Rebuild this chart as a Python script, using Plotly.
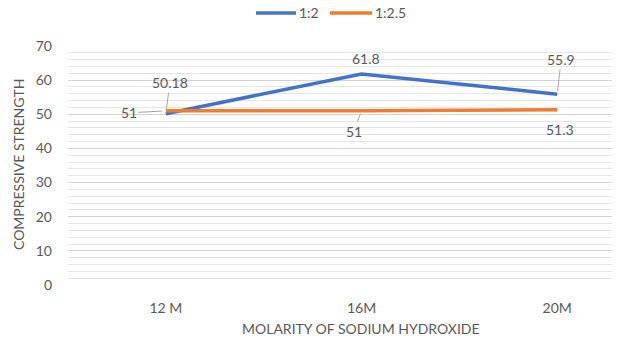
import plotly.graph_objects as go

categories = ["12 M", "16M", "20M"]
ratio_1_2 = [50.18, 61.8, 55.9]
ratio_1_2_5 = [51, 51, 51.3]
series_names = ["1:2", "1:2.5"]

BLUE = "#4472C4"
ORANGE = "#ED7D31"
TEXT = "#595959"
FONT = "Lato"
FS = 14

W, H = 619, 341
ML, MR, MT, MB = 68, 7, 46, 56
PW, PH = W - ML - MR, H - MT - MB


def px(x):
    return (x - ML) / PW


def py(y):
    return (H - MB - y) / PH


fig = go.Figure()
fig.add_trace(go.Scatter(x=categories, y=ratio_1_2, mode="lines", name=series_names[0],
                         line=dict(color=BLUE, width=3.5)))
fig.add_trace(go.Scatter(x=categories, y=ratio_1_2_5, mode="lines", name=series_names[1],
                         line=dict(color=ORANGE, width=3.5)))

# data labels (some with leader lines)
lab = dict(font=dict(family=FONT, size=FS, color=TEXT), xref="x", yref="y",
           arrowcolor="#a6a6a6", arrowwidth=1, arrowhead=0)
fig.add_annotation(x=categories[0], y=ratio_1_2[0], text=f"{ratio_1_2[0]:g}",
                   showarrow=True, ax=4, ay=-31, standoff=3, **lab)
fig.add_annotation(x=categories[1], y=ratio_1_2[1], text=f"{ratio_1_2[1]:g}",
                   showarrow=False, xshift=4, yshift=16, **lab)
fig.add_annotation(x=categories[2], y=ratio_1_2[2], text=f"{ratio_1_2[2]:g}",
                   showarrow=True, ax=4, ay=-35, standoff=3, **lab)
fig.add_annotation(x=categories[0], y=ratio_1_2_5[0], text=f"{ratio_1_2_5[0]:g}",
                   showarrow=True, ax=-37, ay=2, standoff=4, **lab)
fig.add_annotation(x=categories[1], y=ratio_1_2_5[1], text=f"{ratio_1_2_5[1]:g}",
                   showarrow=True, ax=-8, ay=21, standoff=3, **lab)
fig.add_annotation(x=categories[2], y=ratio_1_2_5[2], text=f"{ratio_1_2_5[2]:g}",
                   showarrow=False, xshift=3, yshift=-20, **lab)

# axis titles
fig.add_annotation(text="MOLARITY OF SODIUM HYDROXIDE", xref="paper", yref="paper",
                   x=px(361), y=py(328), xanchor="center", yanchor="middle",
                   showarrow=False, font=dict(family=FONT, size=FS, color=TEXT))
fig.add_annotation(text="COMPRESSIVE STRENGTH", xref="paper", yref="paper",
                   x=px(18), y=py(165), xanchor="center", yanchor="middle",
                   textangle=-90, showarrow=False,
                   font=dict(family=FONT, size=FS, color=TEXT))

# legend at the top
legend_items = [(series_names[0], BLUE, 256, 296), (series_names[1], ORANGE, 330, 372)]
for name, color, x0, x1 in legend_items:
    fig.add_shape(type="line", xref="paper", yref="paper",
                  x0=px(x0), x1=px(x1), y0=py(13), y1=py(13),
                  line=dict(color=color, width=3.5))
    fig.add_annotation(text=name, xref="paper", yref="paper", x=px(x1 + 1), y=py(13),
                       xanchor="left", yanchor="middle", showarrow=False,
                       font=dict(family=FONT, size=FS, color=TEXT))

fig.update_layout(
    width=W, height=H,
    margin=dict(l=ML, r=MR, t=MT, b=MB),
    paper_bgcolor="white", plot_bgcolor="white",
    font=dict(family=FONT, size=FS, color=TEXT),
    showlegend=False,
    xaxis=dict(type="category", range=[-0.5, 2.28], showgrid=False, zeroline=False,
               showline=False, ticks="", ticklabelstandoff=13,
               tickfont=dict(family=FONT, size=FS, color=TEXT)),
    yaxis=dict(range=[0, 70], tickmode="linear", tick0=0, dtick=10,
               showgrid=True, gridcolor="#d4d4d4", gridwidth=1,
               zeroline=False, showline=False, ticks="",
               ticklabelstandoff=15, tickfont=dict(family=FONT, size=FS, color=TEXT),
               minor=dict(tickmode="linear", tick0=0, dtick=2, showgrid=True,
                          gridcolor="#e6e6e6", gridwidth=1)),
)

fig.write_html("out.html")
